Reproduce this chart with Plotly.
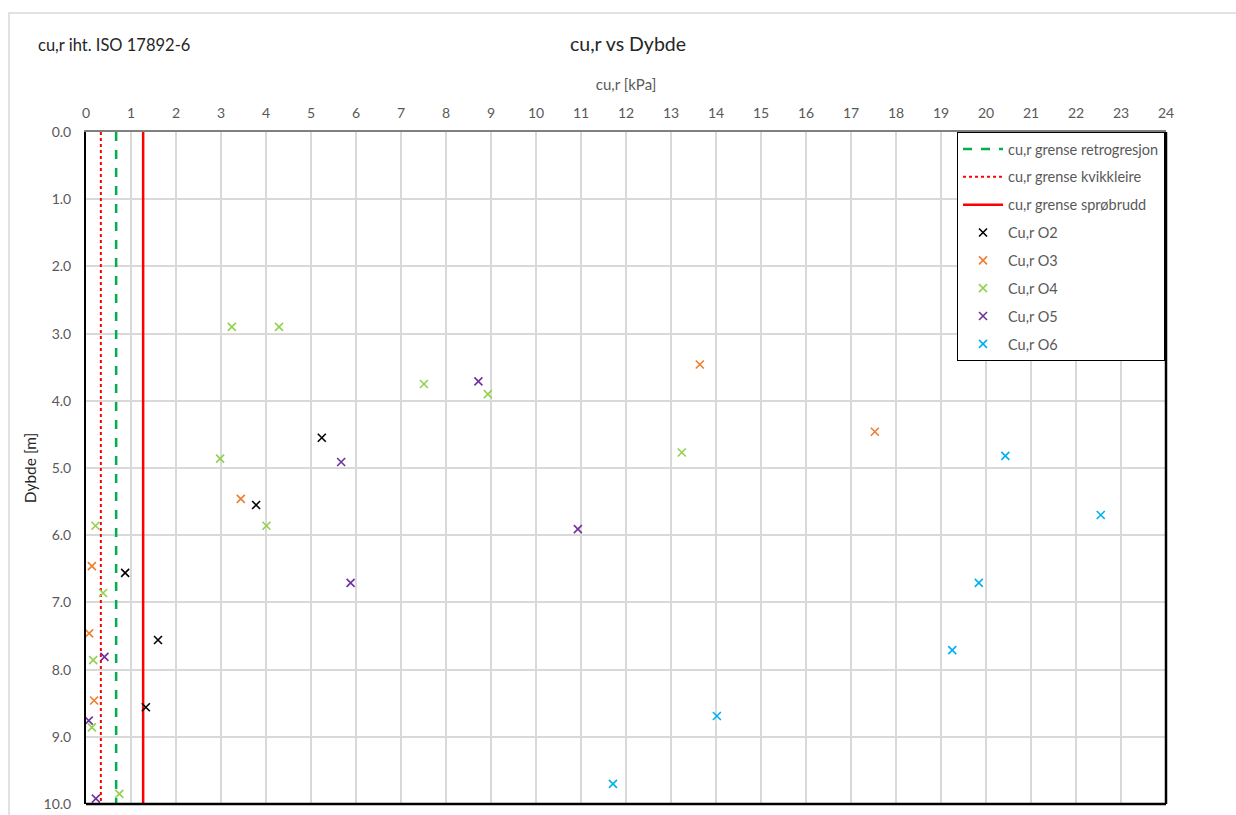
import plotly.graph_objects as go

# Limit values for remoulded shear strength cu,r [kPa]
limit_names = ["cu,r grense retrogresjon", "cu,r grense kvikkleire", "cu,r grense sprøbrudd"]
limit_values = [0.67, 0.33, 1.27]
limit_colors = ["#00B050", "#FF0000", "#FF0000"]
limit_dash = ["dash", "dot", "solid"]

# Measured cu,r [kPa] and depth [m] per borehole
o2_cur = [5.24, 3.78, 0.87, 1.60, 1.33]
o2_depth = [4.55, 5.55, 6.56, 7.56, 8.56]

o3_cur = [13.64, 17.53, 3.44, 0.13, 0.07, 0.18]
o3_depth = [3.46, 4.46, 5.46, 6.46, 7.46, 8.46]

o4_cur = [3.24, 4.29, 7.51, 8.93, 2.98, 13.24, 4.01, 0.21, 0.38, 0.16, 0.13, 0.74]
o4_depth = [2.90, 2.90, 3.75, 3.90, 4.86, 4.77, 5.86, 5.86, 6.86, 7.86, 8.86, 9.85]

o5_cur = [8.72, 5.67, 5.88, 10.93, 0.41, 0.06, 0.22]
o5_depth = [3.71, 4.91, 6.71, 5.91, 7.81, 8.76, 9.92]

o6_cur = [20.43, 22.55, 19.84, 19.25, 14.02, 11.71]
o6_depth = [4.82, 5.70, 6.71, 7.71, 8.69, 9.70]

series = [
    ("Cu,r O2", o2_cur, o2_depth, "#000000"),
    ("Cu,r O3", o3_cur, o3_depth, "#ED7D31"),
    ("Cu,r O4", o4_cur, o4_depth, "#92D050"),
    ("Cu,r O5", o5_cur, o5_depth, "#7030A0"),
    ("Cu,r O6", o6_cur, o6_depth, "#00B0F0"),
]

depth_span = [0.0, 10.0]

FONT = "Lato"
GRAY_TEXT = "#595959"
DARK_TEXT = "#262626"

fig = go.Figure()

for i, (name, val, col, dash) in enumerate(zip(limit_names, limit_values, limit_colors, limit_dash)):
    fig.add_trace(go.Scatter(
        x=[val, val], y=depth_span, mode="lines", name=name,
        legendgroup=f"g{i}",
        line=dict(color=col, width=2.5 if dash != "dot" else 2, dash=dash),
        hoverinfo="skip",
    ))

for j, (name, xs, ys, col) in enumerate(series):
    fig.add_trace(go.Scatter(
        x=xs, y=ys, mode="markers", name=name,
        legendgroup=f"s{j}",
        marker=dict(symbol="x-thin", size=8, color=col,
                    line=dict(color=col, width=1.6)),
    ))

# plot frame: right and bottom edges
fig.add_shape(type="line", xref="paper", yref="paper", x0=1, x1=1, y0=0, y1=1,
              line=dict(color="black", width=2.5))
fig.add_shape(type="line", xref="paper", yref="paper", x0=0, x1=1, y0=0, y1=0,
              line=dict(color="black", width=2.5))
# outer chart border
fig.add_shape(type="rect", xref="paper", yref="paper",
              x0=-0.0713, x1=1.2, y0=-0.2, y1=1.177,
              line=dict(color="#D9D9D9", width=1.5), layer="below")

fig.add_annotation(text="cu,r iht. ISO 17892-6", xref="paper", yref="paper",
                   x=-0.0463, y=1.129, xanchor="left", yanchor="middle",
                   showarrow=False, font=dict(family=FONT, size=16.5, color=DARK_TEXT))

fig.update_layout(
    width=1236, height=815,
    margin=dict(l=86, r=70, t=132, b=11, autoexpand=False),
    paper_bgcolor="white", plot_bgcolor="white",
    font=dict(family=FONT, size=14, color=GRAY_TEXT),
    title=dict(text="cu,r vs Dybde", x=628 / 1236, xanchor="center",
               y=1 - 44 / 815, yanchor="middle",
               font=dict(family=FONT, size=19.5, color=DARK_TEXT)),
    showlegend=True,
    legend=dict(x=0.8065, y=1.0, xanchor="left", yanchor="top",
                bgcolor="white", bordercolor="black", borderwidth=1,
                font=dict(family=FONT, size=14.5, color=GRAY_TEXT),
                tracegroupgap=6, traceorder="grouped", itemwidth=40),
    xaxis=dict(side="top", range=[0, 24], dtick=1, tick0=0, automargin=False,
               showgrid=True, gridcolor="#D9D9D9", gridwidth=1.5,
               zeroline=False, showline=True, linecolor="#7F7F7F", linewidth=2,
               ticks="", ticklabelstandoff=6,
               tickfont=dict(family=FONT, size=14, color=GRAY_TEXT),
               title=dict(text="cu,r [kPa]", standoff=10,
                          font=dict(family=FONT, size=15, color=GRAY_TEXT))),
    yaxis=dict(range=[10, 0], dtick=1, tick0=0, tickformat=".1f", automargin=False,
               showgrid=True, gridcolor="#D9D9D9", gridwidth=1.5,
               zeroline=False, showline=True, linecolor="black", linewidth=2,
               ticks="", ticklabelstandoff=10,
               tickfont=dict(family=FONT, size=14, color=GRAY_TEXT),
               title=dict(text="Dybde [m]", standoff=3,
                          font=dict(family=FONT, size=15.5, color=DARK_TEXT))),
)

fig.write_html("out.html")
